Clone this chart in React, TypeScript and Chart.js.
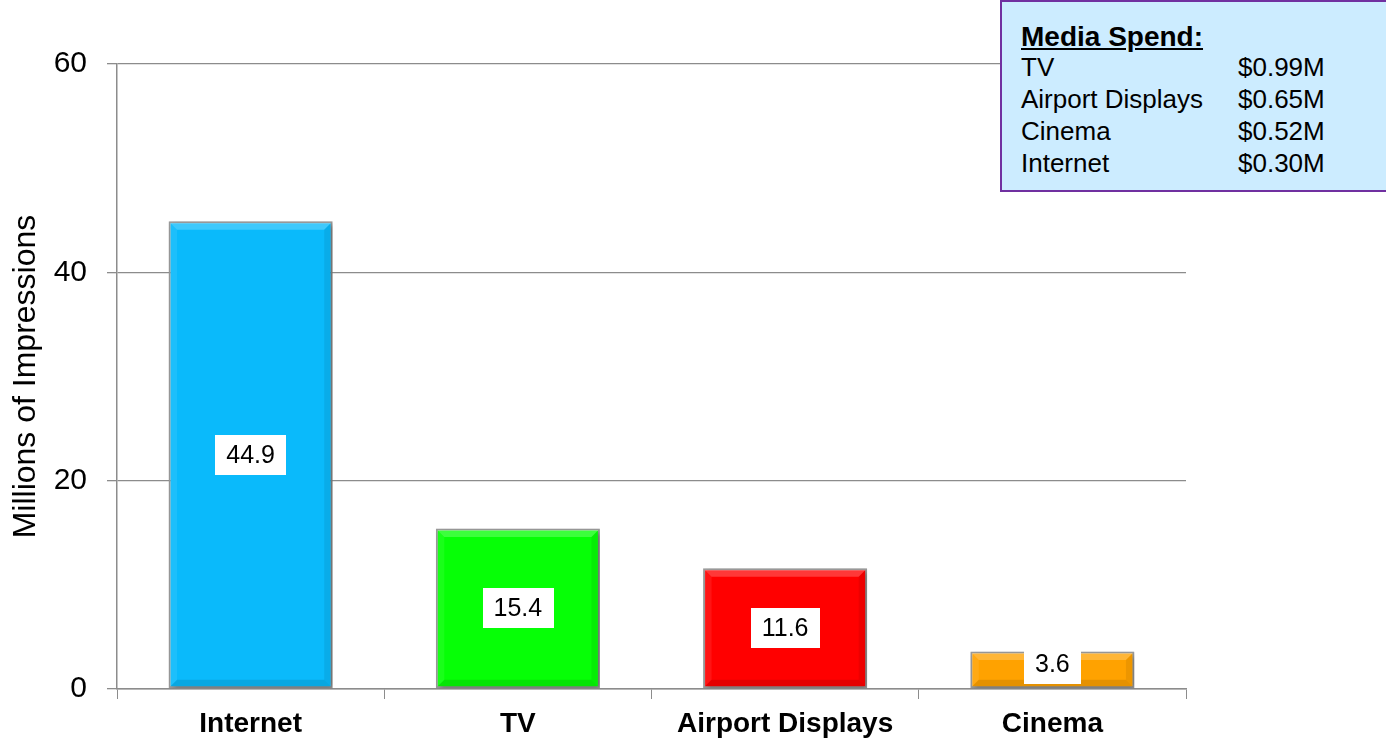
import React, { useEffect, useRef } from "react";
import { Chart, registerables } from "chart.js";

Chart.register(...registerables);

const categories = ["Internet", "TV", "Airport Displays", "Cinema"];
const impressions = [44.9, 15.4, 11.6, 3.6];
const barColors = ["#0ABAFB", "#06FF06", "#FF0000", "#FFA200"];
const yTicks = [0, 20, 40, 60];
const yTitle = "Millions of Impressions";

const spendTitle = "Media Spend:";
const spendNames = ["TV", "Airport Displays", "Cinema", "Internet"];
const spendValues = ["$0.99M", "$0.65M", "$0.52M", "$0.30M"];

const FONT = "Arial, 'Liberation Sans', sans-serif";
const GRID = "#8c8c8c";

const shadowPlugin = {
  id: "barShadow",
  beforeDatasetsDraw(chart: any) {
    const ctx = chart.ctx;
    ctx.save();
    ctx.shadowColor = "rgba(0,0,0,0.35)";
    ctx.shadowBlur = 5;
    ctx.shadowOffsetX = 2;
    ctx.shadowOffsetY = 2;
  },
  afterDatasetsDraw(chart: any) {
    chart.ctx.restore();
  },
};

const bevelPlugin = {
  id: "bevel",
  afterDatasetsDraw(chart: any) {
    const ctx = chart.ctx;
    const meta = chart.getDatasetMeta(0);
    meta.data.forEach((bar: any) => {
      const { x, y, base, width } = bar.getProps(["x", "y", "base", "width"], true);
      const l = x - width / 2 + 1.5;
      const r = x + width / 2 - 1.5;
      const t = Math.min(y, base) + 1.5;
      const b = Math.max(y, base) - 1.5;
      const d = Math.min(7, (b - t) / 2);
      ctx.save();
      ctx.fillStyle = "rgba(255,255,255,0.22)";
      ctx.beginPath();
      ctx.moveTo(l, t);
      ctx.lineTo(r, t);
      ctx.lineTo(r - d, t + d);
      ctx.lineTo(l + d, t + d);
      ctx.closePath();
      ctx.fill();
      ctx.fillStyle = "rgba(255,255,255,0.08)";
      ctx.beginPath();
      ctx.moveTo(l, t);
      ctx.lineTo(l + d, t + d);
      ctx.lineTo(l + d, b - d);
      ctx.lineTo(l, b);
      ctx.closePath();
      ctx.fill();
      ctx.fillStyle = "rgba(0,0,0,0.07)";
      ctx.beginPath();
      ctx.moveTo(r, t);
      ctx.lineTo(r - d, t + d);
      ctx.lineTo(r - d, b - d);
      ctx.lineTo(r, b);
      ctx.closePath();
      ctx.fill();
      ctx.fillStyle = "rgba(0,0,0,0.10)";
      ctx.beginPath();
      ctx.moveTo(l, b);
      ctx.lineTo(l + d, b - d);
      ctx.lineTo(r - d, b - d);
      ctx.lineTo(r, b);
      ctx.closePath();
      ctx.fill();
      ctx.restore();
    });
  },
};

const valueLabelPlugin = {
  id: "valueLabels",
  afterDatasetsDraw(chart: any) {
    const ctx = chart.ctx;
    const meta = chart.getDatasetMeta(0);
    const data = chart.data.datasets[0].data;
    ctx.save();
    ctx.font = `25px ${FONT}`;
    ctx.textAlign = "center";
    ctx.textBaseline = "middle";
    meta.data.forEach((bar: any, i: number) => {
      const { x, y, base } = bar.getProps(["x", "y", "base"], true);
      const txt = String(data[i]);
      const h = 40;
      const cy = Math.min((y + base) / 2, base - h / 2 - 4);
      const w = ctx.measureText(txt).width + 22;
      ctx.fillStyle = "#ffffff";
      ctx.fillRect(Math.round(x - w / 2), Math.round(cy - h / 2), Math.round(w), h);
      ctx.fillStyle = "#000000";
      ctx.fillText(txt, x, cy + 1);
    });
    ctx.restore();
  },
};

function BarChart() {
  const ref = useRef<HTMLCanvasElement | null>(null);
  useEffect(() => {
    if (!ref.current) return;
    const chart = new Chart(ref.current, {
      type: "bar",
      data: {
        labels: categories,
        datasets: [
          {
            data: impressions,
            backgroundColor: barColors,
            borderColor: "#9a9a9a",
            borderWidth: 2,
            borderSkipped: false,
            barPercentage: 0.614,
            categoryPercentage: 1,
          },
        ],
      },
      options: {
        animation: false,
        responsive: true,
        maintainAspectRatio: false,
        layout: { padding: { left: 0, right: 200, top: 64, bottom: 0 } },
        plugins: {
          legend: { display: false },
          tooltip: { enabled: false },
        },
        scales: {
          x: {
            ticks: {
              font: { family: FONT, size: 28, weight: "bold" },
              color: "#000",
              padding: 8,
              maxRotation: 0,
              autoSkip: false,
            },
            grid: {
              offset: true,
              drawOnChartArea: false,
              drawTicks: true,
              tickLength: 10,
              tickColor: GRID,
              color: GRID,
            },
            border: { display: true, color: GRID, width: 1.5 },
            afterFit(scale: any) {
              scale.height = 58;
            },
          },
          y: {
            min: 0,
            max: 60,
            afterBuildTicks(scale: any) {
              scale.ticks = yTicks.map((v) => ({ value: v }));
            },
            ticks: {
              font: { family: FONT, size: 30 },
              color: "#000",
              padding: 20,
            },
            grid: {
              color: GRID,
              lineWidth: 1.3,
              tickLength: 10,
              tickColor: GRID,
              drawTicks: true,
            },
            border: { display: true, color: GRID, width: 1.5 },
            title: {
              display: true,
              text: yTitle,
              font: { family: FONT, size: 32 },
              color: "#000",
              padding: { top: 7, bottom: 0 },
            },
            afterFit(scale: any) {
              scale.width = 117;
            },
          },
        },
      },
      plugins: [shadowPlugin, bevelPlugin, valueLabelPlugin],
    } as any);
    return () => chart.destroy();
  }, []);
  return <canvas ref={ref} />;
}

export default function App() {
  const rowTop = 51;
  const rowH = 32;
  return (
    <div
      style={{
        position: "fixed",
        left: 0,
        top: 0,
        width: 1386,
        height: 747,
        overflow: "hidden",
        background: "#fff",
        fontFamily: FONT,
      }}
    >
      <div style={{ position: "absolute", left: 0, top: 0, width: 1386, height: 747 }}>
        <BarChart />
      </div>
      <div
        style={{
          position: "absolute",
          left: 1000,
          top: 0,
          width: 420,
          height: 192,
          boxSizing: "border-box",
          border: "2px solid #7030A0",
          background: "#CCECFF",
          color: "#000",
        }}
      >
        <div
          style={{
            position: "absolute",
            left: 19,
            top: 18,
            fontSize: 28,
            fontWeight: "bold",
            lineHeight: "34px",
            textDecoration: "underline",
            whiteSpace: "nowrap",
          }}
        >
          {spendTitle}
        </div>
        {spendNames.map((n, i) => (
          <React.Fragment key={n}>
            <div
              style={{
                position: "absolute",
                left: 19,
                top: rowTop - 2 + i * rowH,
                fontSize: 26,
                lineHeight: `${rowH}px`,
                whiteSpace: "nowrap",
              }}
            >
              {n}
            </div>
            <div
              style={{
                position: "absolute",
                left: 236,
                top: rowTop - 2 + i * rowH,
                fontSize: 26,
                lineHeight: `${rowH}px`,
                whiteSpace: "nowrap",
              }}
            >
              {spendValues[i]}
            </div>
          </React.Fragment>
        ))}
      </div>
    </div>
  );
}
